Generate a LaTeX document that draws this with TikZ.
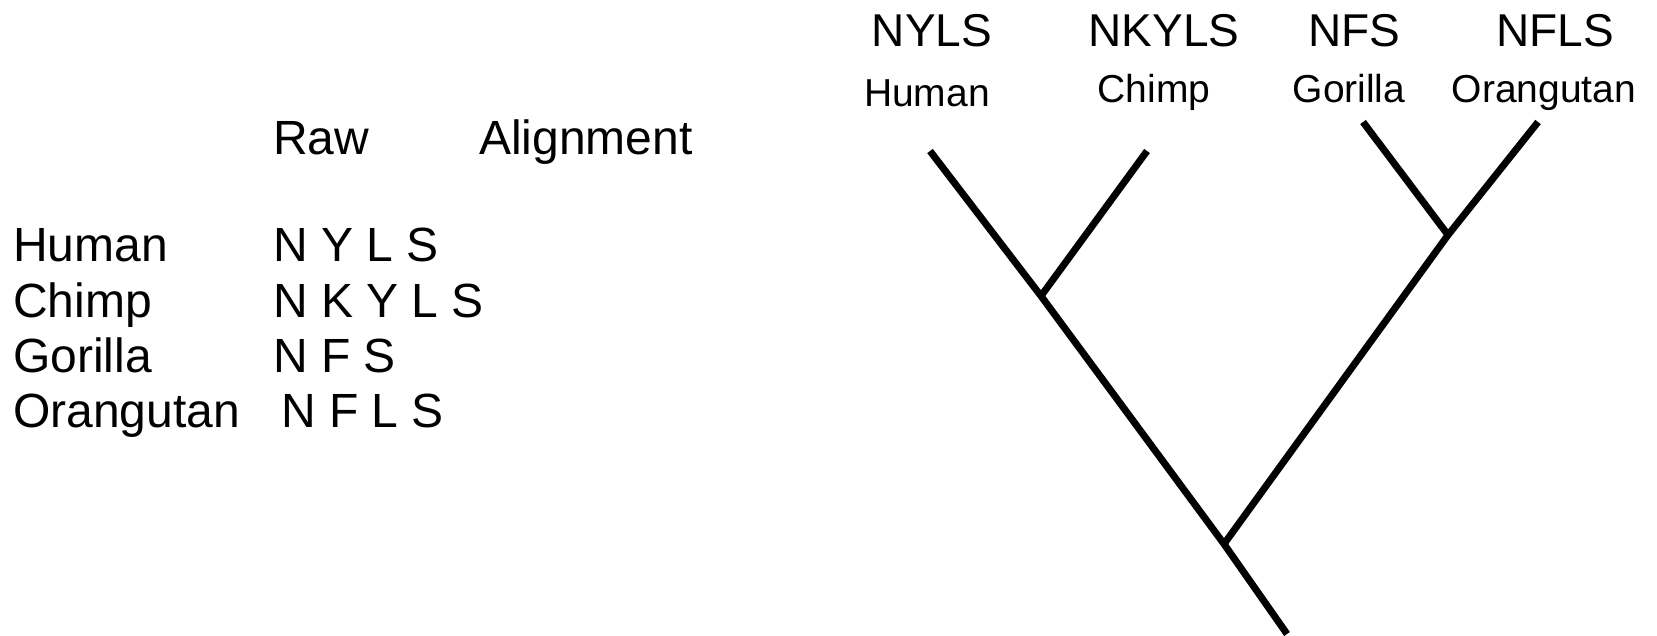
\documentclass[tikz,border=0pt]{standalone}
\usepackage{fontspec}
\setmainfont{Liberation Sans}
\begin{document}
\begin{tikzpicture}[x=1pt,y=-1pt,
  big/.style={inner sep=0pt,font=\fontsize{48}{57}\selectfont},
  top/.style={inner sep=0pt,font=\fontsize{46}{55}\selectfont},
  small/.style={inner sep=0pt,font=\fontsize{39}{47}\selectfont},
  branch/.style={line width=7pt,black}]
\useasboundingbox (0,0) rectangle (1657,636);
% table
\node[big,anchor=base west] (hraw) at (273,155) {Raw};
\node[big,anchor=base west] (haln) at (479,155) {Alignment};
\node[big,anchor=base west] (lh) at (13,262) {Human};
\node[big,anchor=base west] (lc) at (13,317) {Chimp};
\node[big,anchor=base west] (lg) at (13,372) {Gorilla};
\node[big,anchor=base west] (lo) at (13,427) {Orangutan};
\node[big,anchor=base west] (sh) at (273,262) {N Y L S};
\node[big,anchor=base west] (sc) at (273,317) {N K Y L S};
\node[big,anchor=base west] (sg) at (273,372) {N F S};
\node[big,anchor=base west] (so) at (281,427) {N F L S};
% tree labels
\node[top,anchor=base] (th) at (932,47) {NYLS};
\node[top,anchor=base] (tc) at (1164,47) {NKYLS};
\node[top,anchor=base] (tg) at (1354,47) {NFS};
\node[top,anchor=base] (to) at (1555,47) {NFLS};
\node[small,anchor=base] (nh) at (927,107) {Human};
\node[small,anchor=base] (nc) at (1154,103) {Chimp};
\node[small,anchor=base] (ng) at (1349,103) {Gorilla};
\node[small,anchor=base] (no) at (1544,103) {Orangutan};
% tree
\coordinate (ph) at (930,151);
\coordinate (pc) at (1147,151);
\coordinate (pg) at (1363,122);
\coordinate (po) at (1538,122);
\coordinate (jhc) at (1041,296);
\coordinate (jgo) at (1448,235);
\coordinate (jr) at (1224,544);
\coordinate (rb) at (1287,634);
\draw[branch] (ph) -- (jhc) -- (jr) -- (rb);
\draw[branch] (pc) -- (jhc);
\draw[branch] (pg) -- (jgo);
\draw[branch] (po) -- (jgo) -- (jr);
\end{tikzpicture}
\end{document}
